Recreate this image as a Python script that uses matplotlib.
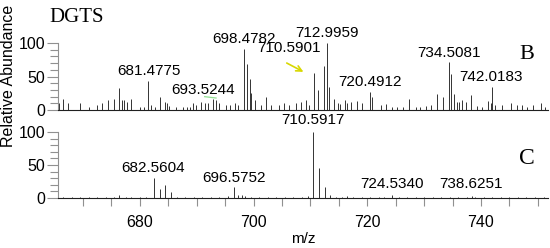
import numpy as np
import matplotlib
matplotlib.use("Agg")
import matplotlib.pyplot as plt
from matplotlib.ticker import MultipleLocator

plt.rcParams["font.family"] = ["Liberation Sans", "DejaVu Sans"]

# spectrum B (top) - m/z, relative abundance
b_mz = [665.8, 666.5, 667.4, 669.5, 671.1, 672.4, 673.4, 674.4, 675.4, 676.4,
        676.8, 677.2, 677.7, 678.4, 680.0, 680.8, 681.4, 681.9, 682.6, 683.5,
        684.4, 684.7, 685.2, 686.4, 687.5, 688.2, 688.8, 689.3, 689.9, 690.8,
        691.4, 692.0, 692.9, 693.4, 694.0, 695.2, 695.9, 696.8, 697.3, 698.4,
        698.8, 699.3, 699.6, 700.3, 701.3, 702.2, 703.1, 704.4, 705.4, 706.3,
        707.5, 708.4, 709.2, 709.8, 710.6, 711.4, 712.3, 712.9, 713.3, 714.2,
        714.8, 715.2, 716.1, 716.5, 717.2, 718.2, 719.0, 720.5, 720.9, 722.4,
        723.3, 724.4, 725.3, 726.2, 727.4, 728.5, 729.3, 730.3, 731.2, 732.3,
        733.4, 734.4, 734.8, 735.2, 735.8, 736.2, 736.7, 737.3, 738.3, 739.3,
        740.2, 741.3, 741.7, 742.0, 742.4, 743.7, 745.3, 746.4, 747.2, 748.1,
        749.1, 750.5, 751.3]
b_int = [10, 16, 11, 10, 5, 8, 10, 15, 17, 33,
         15, 15, 12, 17, 5, 5, 43, 8, 5, 19,
         12, 10, 6, 5, 5, 5, 5, 10, 8, 12,
         11, 10, 16, 15, 10, 8, 8, 10, 8, 91,
         68, 46, 25, 15, 8, 20, 8, 8, 10, 8,
         10, 12, 15, 8, 55, 30, 66, 100, 34, 17,
         11, 9, 15, 10, 12, 13, 10, 27, 20, 8,
         9, 5, 5, 5, 16, 5, 5, 6, 8, 24,
         20, 72, 54, 24, 12, 12, 15, 12, 22, 6,
         5, 13, 10, 34, 8, 8, 10, 8, 7, 5,
         8, 10, 5]

# spectrum C (bottom)
c_mz = [666.5, 668.0, 669.5, 671.0, 672.5, 674.0, 675.5, 676.3, 677.5, 678.5,
        680.0, 681.0, 682.5, 683.5, 684.5, 685.5, 686.5, 688.0, 689.5, 691.0,
        692.5, 694.0, 695.5, 696.5, 697.2, 697.9, 698.5, 699.5, 701.0, 702.5,
        704.0, 705.5, 707.0, 708.5, 709.5, 710.5, 711.5, 712.5, 713.5, 714.5,
        715.5, 716.5, 717.5, 719.0, 720.5, 722.0, 723.0, 724.4, 725.5, 727.0,
        728.5, 730.0, 731.5, 733.0, 734.5, 736.0, 737.5, 738.5, 739.0, 740.5,
        742.0, 743.5, 745.0, 746.5, 748.0, 749.5, 751.0]
c_int = [2, 1, 2, 1, 2, 2, 1, 4, 2, 1,
         2, 1, 30, 14, 20, 9, 2, 1, 2, 1,
         2, 2, 3, 16, 5, 4, 3, 2, 1, 2,
         1, 2, 1, 2, 3, 100, 46, 17, 4, 2,
         2, 3, 2, 1, 2, 1, 2, 4, 2, 1,
         2, 1, 2, 1, 2, 1, 2, 3, 2, 1,
         2, 1, 2, 1, 2, 1, 2]

b_labels = [("681.4775", 681.6, 58), ("693.5244", 691.2, 30),
            ("698.4782", 698.4, 106), ("710.5901", 706.3, 92),
            ("712.9959", 712.97, 115), ("720.4912", 720.4, 42.5),
            ("734.5081", 734.3, 85), ("742.0183", 741.8, 49)]
c_labels = [("710.5917", 710.5, 118), ("682.5604", 682.4, 46),
            ("696.5752", 696.5, 31), ("724.5340", 724.4, 21),
            ("738.6251", 738.2, 21)]

fig = plt.figure(figsize=(5.5, 2.48), dpi=100)
ax1 = fig.add_axes([0.1055, 0.556, 0.891, 0.271])
ax2 = fig.add_axes([0.1055, 0.2016, 0.891, 0.266])

for ax in (ax1, ax2):
    ax.set_xlim(665.6, 751.8)
    ax.set_ylim(0, 100)
    ax.spines["top"].set_visible(False)
    ax.spines["right"].set_visible(False)
    ax.spines["left"].set_color("#909090")
    ax.spines["left"].set_bounds(0, 100)
    ax.spines["bottom"].set_color("#202020")
    ax.spines["left"].set_linewidth(0.8)
    ax.spines["bottom"].set_linewidth(0.8)
    ax.yaxis.set_major_locator(MultipleLocator(50))
    ax.yaxis.set_minor_locator(MultipleLocator(10))
    ax.tick_params(axis="y", which="major", length=8, width=0.8,
                   color="#909090", labelsize=11.5, pad=1)
    ax.tick_params(axis="y", which="minor", length=6, width=0.8,
                   color="#909090")

ax1.vlines(b_mz, 0, b_int, color="#333333", lw=0.7)
ax2.vlines(c_mz, 0, c_int, color="#333333", lw=0.7)

ax1.tick_params(axis="x", which="both", bottom=False, labelbottom=False)
ax2.xaxis.set_major_locator(MultipleLocator(20))
ax2.xaxis.set_minor_locator(MultipleLocator(5))
ax2.tick_params(axis="x", which="both", length=6, width=0.8,
                color="#909090", labelsize=11.5, pad=6)
ax2.set_xlabel("m/z", fontsize=11, labelpad=2)

for txt, x, y in b_labels:
    ax1.text(x, y, txt, ha="center", va="center", fontsize=11)
for txt, x, y in c_labels:
    ax2.text(x, y, txt, ha="center", va="center", fontsize=11)

ax1.annotate("", xy=(709.2, 55), xytext=(705.4, 72),
             arrowprops=dict(arrowstyle="->", color="#d8d800", lw=1.2))
ax1.plot([691.4, 693.4], [20, 18], color="#90e090", lw=0.9)

ax1.text(0.037, 1.38, "DGTS", transform=ax1.transAxes, ha="center",
         va="center", fontsize=15, family="Liberation Serif")
ax1.text(748, 83, "B", ha="center", va="center", fontsize=16,
         family="Liberation Serif")
ax2.text(748, 60, "C", ha="center", va="center", fontsize=17,
         family="Liberation Serif")

fig.text(0.016, 1 - 76 / 248, "Relative Abundance", rotation=90,
         ha="center", va="center", fontsize=11.5)

fig.savefig("out.png", dpi=100)
